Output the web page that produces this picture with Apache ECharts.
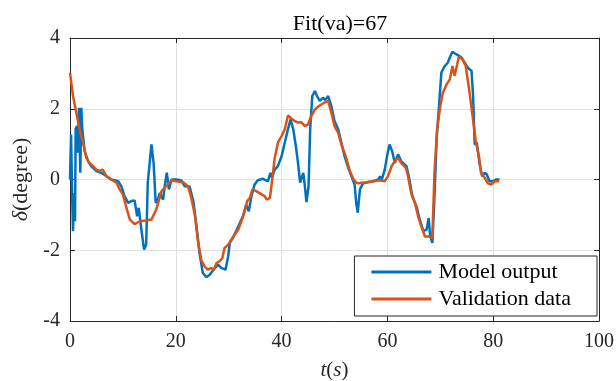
<!DOCTYPE html>
<html>
    <head>
        <meta charset="UTF-8">
        <title>Fit(va)=67</title>
        <script type="text/javascript" src="https://cdn.jsdelivr.net/npm/echarts@6/dist/echarts.min.js"></script>
        <style>
            body { margin: 0; background: #fff; }
        </style>
    </head>
    <body>
        <div id="container" style="width:616px;height:381px"></div>
        <script type="text/javascript">
            // time (s) and delta (degree)
            var tModel = [0, 0.2, 0.35, 0.44, 0.57, 0.76, 0.95, 1.07, 1.32, 1.5, 1.7, 1.95, 2.14, 2.33, 2.77, 3.4, 4.0, 5.0, 5.9, 6.9,
                7.8, 9.1, 9.7, 10.3, 11.0, 11.6, 12.2, 12.7, 13.0, 13.5, 14.0, 14.4, 14.7, 15.4, 15.8, 16.2, 16.6, 17.0, 17.6, 17.9,
                18.3, 18.7, 19.2, 20.1, 21.0, 21.7, 22.6, 23.3, 23.9, 24.5, 25.1, 25.8, 26.4, 27.4, 28.0, 28.6, 29.4, 29.9, 30.2, 30.8,
                31.4, 32.1, 32.7, 33.3, 33.8, 34.3, 34.9, 35.5, 36.5, 37.4, 37.9, 38.2, 38.7, 39.3, 40.0, 40.6, 41.2, 41.7, 42.2, 42.7,
                43.1, 43.5, 44.1, 44.4, 44.7, 45.1, 45.4, 45.8, 46.3, 46.7, 47.2, 47.8, 48.3, 48.8, 49.4, 50.0, 50.7, 51.3, 51.9, 52.6,
                53.2, 53.8, 54.1, 54.4, 54.8, 55.4, 56.3, 57.3, 58.3, 58.6, 58.9, 59.5, 60.0, 60.4, 60.9, 61.4, 62.0, 62.6, 63.6, 64.1,
                64.7, 65.5, 66.1, 66.8, 67.4, 67.8, 68.1, 68.5, 68.9, 69.3, 69.8, 70.2, 70.8, 71.4, 71.8, 72.3, 72.7, 73.4, 74.0, 74.6,
                75.2, 75.9, 76.2, 76.5, 76.9, 77.4, 77.9, 78.4, 78.8, 79.3, 79.9, 80.6, 81.2];
            var yModel = [0, 1.27, 1.23, -0.66, -1.46, -0.38, -1.18, 1.42, 1.51, 0.76, 2.03, 0.19, 2.03, 1.42, 0.8, 0.52, 0.38, 0.24, 0.19, 0.09,
                0, -0.05, -0.19, -0.47, -0.66, -0.61, -0.59, -1.04, -0.8, -1.42, -1.98, -1.84, -0.09, 0.99, 0.47, -0.66, -0.57, -0.38, -0.57, -0.19,
                0.19, -0.28, 0, 0, -0.02, -0.19, -0.2, -0.6, -1.3, -2.1, -2.64, -2.76, -2.69, -2.5, -2.41, -2.5, -2.55, -2.17, -1.79, -1.65,
                -1.46, -1.23, -1.04, -0.71, -0.9, -0.47, -0.14, -0.02, 0.02, -0.05, 0.19, 0.05, 0.28, 0.38, 0.66, 1.04, 1.42, 1.7, 1.42, 0.94,
                0.47, -0.09, 0.19, -0.19, -0.64, -0.19, 1.42, 2.36, 2.5, 2.36, 2.22, 2.31, 2.25, 2.36, 2.08, 1.65, 1.42, 1.04, 0.66, 0.33,
                0.09, -0.14, -0.66, -0.94, -0.28, -0.11, -0.08, -0.05, 0, 0.09, -0.02, 0.28, 0.71, 0.99, 0.8, 0.47, 0.71, 0.52, 0.38, 0.05,
                -0.47, -0.76, -1.13, -1.46, -1.42, -1.09, -1.61, -1.79, -0.47, 1.13, 2.17, 3.02, 3.2, 3.3, 3.45, 3.61, 3.57, 3.51, 3.45, 3.3,
                3.16, 3.07, 2.36, 0.99, 1.04, 0.47, 0.09, 0.19, 0.14, -0.05, -0.05, 0, 0];

            var tValid = [0, 0.57, 1.07, 1.83, 2.46, 3.09, 3.7, 4.35, 5.0, 5.6, 6.2, 6.9, 7.8, 8.8, 9.4, 10.0, 10.6, 11.3, 12.2, 13.2,
                14.4, 15.4, 16.3, 17.3, 18.2, 19.2, 20.1, 21.4, 22.3, 22.9, 23.6, 24.2, 24.8, 25.5, 26.1, 26.7, 27.2, 27.7, 28.3, 28.8,
                29.2, 29.9, 30.5, 31.1, 31.8, 32.4, 33.0, 33.5, 34.0, 34.5, 35.2, 36.0, 36.8, 37.2, 37.8, 38.3, 38.7, 39.3, 40.0, 40.6,
                41.2, 41.9, 42.5, 43.1, 43.7, 44.4, 45.0, 45.6, 46.3, 46.9, 47.5, 48.1, 48.8, 49.4, 50.0, 50.7, 51.3, 52.1, 52.9, 53.6,
                54.3, 55.1, 56.0, 57.3, 58.5, 59.5, 60.1, 60.8, 61.4, 62.0, 62.6, 63.5, 63.9, 64.5, 65.2, 65.8, 66.4, 67.1, 67.9, 68.5,
                68.9, 69.4, 70.0, 70.5, 71.2, 71.8, 72.3, 72.7, 73.2, 73.5, 74.2, 74.8, 75.4, 76.1, 76.7, 77.3, 77.7, 78.4, 79.0, 79.6,
                80.3, 81.1];
            var yValid = [3.02, 2.36, 1.98, 1.42, 1.04, 0.61, 0.47, 0.38, 0.28, 0.24, 0.28, 0.09, 0, -0.09, -0.28, -0.42, -0.76, -1.13, -1.26, -1.18,
                -1.16, -1.13, -0.85, -0.33, -0.19, -0.02, -0.05, -0.08, -0.19, -0.5, -1.0, -1.75, -2.27, -2.47, -2.55, -2.5, -2.55, -2.36, -2.31, -2.22,
                -1.94, -1.84, -1.7, -1.56, -1.42, -1.18, -0.9, -0.61, -0.52, -0.28, -0.33, -0.4, -0.47, -0.57, -0.52, 0.09, 0.61, 1.04, 1.23, 1.42,
                1.81, 1.72, 1.65, 1.61, 1.62, 1.51, 1.56, 1.79, 1.98, 2.06, 2.12, 2.17, 2.22, 1.89, 1.51, 1.32, 0.99, 0.66, 0.24, 0,
                -0.11, -0.09, -0.08, -0.05, -0.02, -0.05, 0.09, 0.38, 0.52, 0.61, 0.47, 0.33, 0.09, -0.38, -0.66, -1.04, -1.32, -1.61, -1.61, -1.65,
                0.19, 1.42, 2.08, 2.46, 2.69, 2.83, 3.21, 2.93, 3.26, 3.47, 3.4, 3.21, 2.6, 1.79, 1.09, 0.66, 0.19, 0.05, -0.11, -0.14,
                -0.05, -0.05];

            var seriesNames = ['Model output', 'Validation data'];
            var xTicks = [0, 20, 40, 60, 80, 100];
            var yTicks = [-4, -2, 0, 2, 4];

            function pairs(t, y) {
                return t.map(function (v, i) { return [v, y[i]]; });
            }

            var font = "'Liberation Serif', 'DejaVu Serif', serif";
            var axisColor = '#262626';
            var gridColor = '#e1e1e1';

            function xAxisDef(pos, labels) {
                return {
                    type: 'value', position: pos,
                    min: xTicks[0], max: xTicks[xTicks.length - 1], interval: 20,
                    axisLine: {onZero: false, lineStyle: {color: axisColor, width: 1}},
                    axisTick: {inside: true, length: 5, lineStyle: {color: axisColor}},
                    axisLabel: {show: labels, margin: 11, color: '#262626', fontFamily: font, fontSize: 20},
                    splitLine: {show: labels, lineStyle: {color: gridColor, width: 1}}
                };
            }
            function yAxisDef(pos, labels) {
                return {
                    type: 'value', position: pos,
                    min: yTicks[0], max: yTicks[yTicks.length - 1], interval: 2,
                    axisLine: {onZero: false, lineStyle: {color: axisColor, width: 1}},
                    axisTick: {inside: true, length: 5, lineStyle: {color: axisColor}},
                    axisLabel: {show: labels, margin: 10, color: '#262626', fontFamily: font, fontSize: 20},
                    splitLine: {show: labels, lineStyle: {color: gridColor, width: 1}}
                };
            }

            var xBottom = xAxisDef('bottom', true);
            xBottom.name = '{i|t}({i|s})';
            xBottom.nameLocation = 'middle';
            xBottom.nameGap = 39;
            xBottom.nameTextStyle = {color: '#262626', fontFamily: font, fontSize: 21,
                rich: {i: {fontStyle: 'italic', fontFamily: font, fontSize: 21, color: '#262626'}}};

            var yLeft = yAxisDef('left', true);
            yLeft.name = '{i|δ}(degree)';
            yLeft.nameLocation = 'middle';
            yLeft.nameGap = 38;
            yLeft.nameTextStyle = {color: '#262626', fontFamily: font, fontSize: 22,
                rich: {i: {fontStyle: 'italic', fontFamily: font, fontSize: 22, color: '#262626'}}};

            var myChart = echarts.init(document.getElementById('container'));
            var option = {
                animation: false,
                backgroundColor: '#fff',
                title: {
                    text: 'Fit(va)=67',
                    left: 335, top: 8, textAlign: 'center',
                    textStyle: {fontFamily: font, fontSize: 22, fontWeight: 'normal', color: '#000'}
                },
                grid: {left: 70, right: 17, top: 38, bottom: 60, containLabel: false, outerBoundsMode: 'none'},
                xAxis: [xBottom, xAxisDef('top', false)],
                yAxis: [yLeft, yAxisDef('right', false)],
                legend: {
                    orient: 'vertical',
                    right: 19, bottom: 65,
                    backgroundColor: '#fff',
                    borderColor: axisColor, borderWidth: 1, borderRadius: 0,
                    padding: [5, 26, 6, 17],
                    itemGap: 5,
                    itemWidth: 60, itemHeight: 3,
                    icon: 'rect',
                    textStyle: {fontFamily: font, fontSize: 22, color: '#000', padding: [0, 0, 0, 2]},
                    data: seriesNames
                },
                series: [
                    {
                        name: seriesNames[0], type: 'line', showSymbol: false,
                        data: pairs(tModel, yModel),
                        lineStyle: {color: '#0072BD', width: 2.5},
                        itemStyle: {color: '#0072BD'}
                    },
                    {
                        name: seriesNames[1], type: 'line', showSymbol: false,
                        data: pairs(tValid, yValid),
                        lineStyle: {color: '#D95319', width: 2.5},
                        itemStyle: {color: '#D95319'}
                    }
                ]
            };
            myChart.setOption(option);
        </script>
    </body>
</html>
